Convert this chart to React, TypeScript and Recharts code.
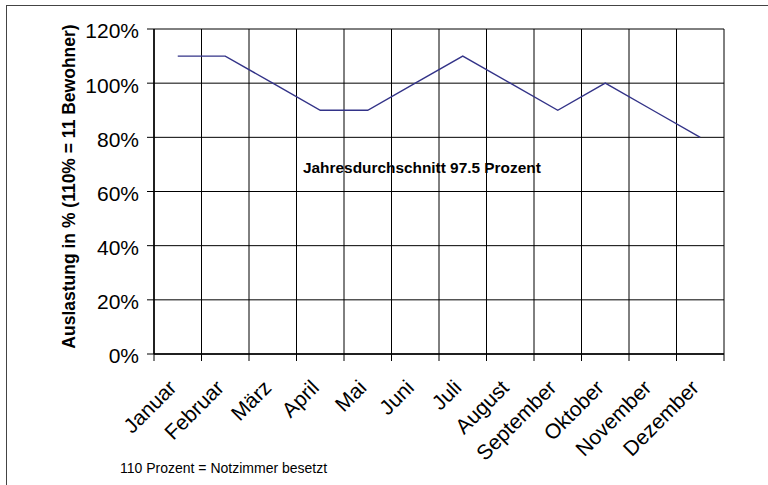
import React from 'react';
import { LineChart, Line, XAxis, YAxis, CartesianGrid, ReferenceDot } from 'recharts';

// Monatliche Auslastung der Einrichtung
const MONTHS = ['Januar', 'Februar', 'März', 'April', 'Mai', 'Juni', 'Juli', 'August', 'September', 'Oktober', 'November', 'Dezember'];
const AUSLASTUNG = [110, 110, 100, 90, 90, 100, 110, 100, 90, 100, 90, 80];
const Y_TICKS = [0, 20, 40, 60, 80, 100, 120];
const Y_TITLE = 'Auslastung in % (110% = 11 Bewohner)';
const AVERAGE_TEXT = 'Jahresdurchschnitt 97.5 Prozent';
const FOOTNOTE = '110 Prozent = Notzimmer besetzt';

// Month boundaries 0..12 carry the grid lines and tick marks; the line sits at the month centres.
const MONTH_EDGES = [...MONTHS.map((_, i) => i), MONTHS.length];
const data = MONTHS.map((month, i) => ({ month, pos: i + 0.5, value: AUSLASTUNG[i] }));

const FONT = '"Liberation Sans", Arial, Helvetica, sans-serif';

const MonthTick = (props: any) => {
  const { x, y, payload, width } = props;
  const idx = payload.value as number;
  if (idx >= MONTHS.length) return null;
  const half = width / MONTHS.length / 2;
  const tx = x + half;
  const ty = y + 26;
  return (
    <text
      x={tx}
      y={ty}
      transform={`rotate(-45, ${tx}, ${ty})`}
      textAnchor="end"
      fontSize={21}
      fontFamily={FONT}
      fill="#000"
    >
      {MONTHS[idx]}
    </text>
  );
};

const YTitle = (props: any) => {
  const { viewBox } = props;
  const cx = 75;
  const cy = viewBox.y + viewBox.height / 2 - 5;
  return (
    <text
      x={cx}
      y={cy}
      transform={`rotate(-90, ${cx}, ${cy})`}
      textAnchor="middle"
      fontSize={17.5}
      fontWeight="bold"
      fontFamily={FONT}
      fill="#000"
    >
      {Y_TITLE}
    </text>
  );
};

const AverageLabel = (props: any) => {
  const { viewBox } = props;
  const cx = viewBox.x + viewBox.width / 2;
  const cy = viewBox.y + viewBox.height / 2;
  return (
    <text x={cx} y={cy + 5} textAnchor="middle" fontSize={15.4} fontWeight="bold" fontFamily={FONT} fill="#000">
      {AVERAGE_TEXT}
    </text>
  );
};

export default function App() {
  return (
    <div style={{ position: 'fixed', left: 0, top: 0, width: 768, height: 485, overflow: 'hidden', background: '#fff' }}>
      <div
        style={{
          position: 'absolute',
          left: 6,
          top: 5,
          width: 800,
          height: 520,
          borderLeft: '1.5px solid #444',
          borderTop: '1.5px solid #444',
          boxSizing: 'border-box',
        }}
      />
      <div style={{ position: 'absolute', left: 0, top: 0 }}>
        <LineChart width={768} height={485} data={data} margin={{ top: 29, right: 44, bottom: 0, left: 0 }}>
          <CartesianGrid stroke="#000" strokeWidth={1} />
          <XAxis
            dataKey="pos"
            type="number"
            domain={[0, MONTHS.length]}
            ticks={MONTH_EDGES}
            interval={0}
            height={131}
            tickSize={7}
            tickLine={{ stroke: '#000' }}
            axisLine={{ stroke: '#000', strokeWidth: 1.5 }}
            tick={<MonthTick />}
          />
          <YAxis
            type="number"
            domain={[0, 120]}
            ticks={Y_TICKS}
            interval={0}
            width={154}
            tickSize={7}
            tickMargin={8}
            tickLine={{ stroke: '#000' }}
            axisLine={{ stroke: '#000', strokeWidth: 1.5 }}
            tickFormatter={(v: number) => `${v}%`}
            tick={{ fontSize: 21, fill: '#000', fontFamily: FONT, dy: 2 }}
            label={<YTitle />}
          />
          <Line
            type="linear"
            dataKey="value"
            stroke="#333388"
            strokeWidth={1.4}
            dot={false}
            activeDot={false}
            isAnimationActive={false}
          />
          <ReferenceDot x={5.64} y={68.5} r={1} fill="none" stroke="none" label={<AverageLabel />} />
        </LineChart>
      </div>
      <div
        style={{
          position: 'absolute',
          left: 120,
          top: 461,
          fontSize: 14,
          lineHeight: '14px',
          fontFamily: FONT,
          color: '#000',
          whiteSpace: 'nowrap',
        }}
      >
        {FOOTNOTE}
      </div>
    </div>
  );
}
